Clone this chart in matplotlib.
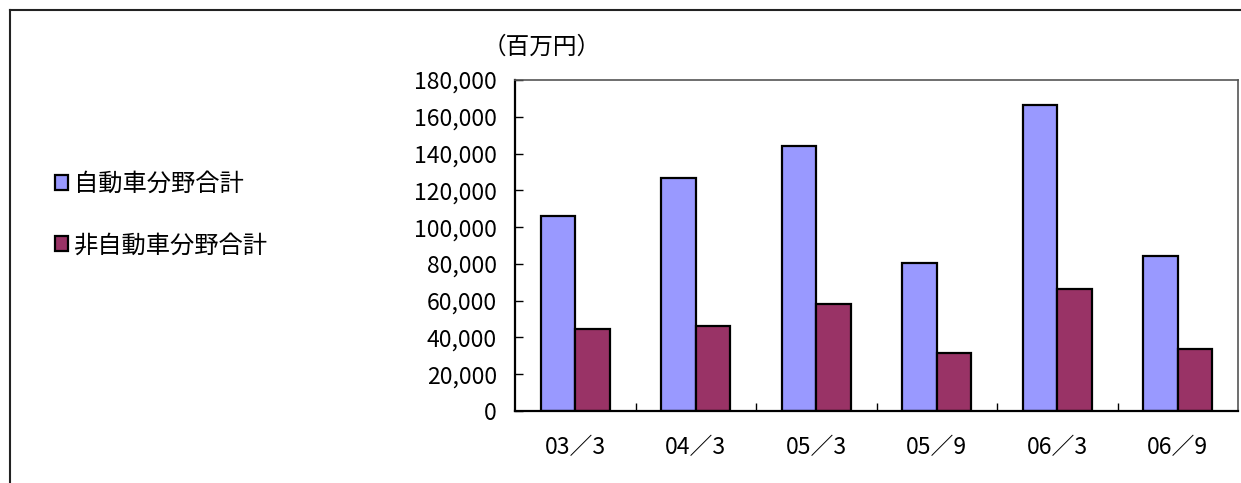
import numpy as np
import matplotlib
matplotlib.use('Agg')
import matplotlib.pyplot as plt
from matplotlib.lines import Line2D
from matplotlib.ticker import FuncFormatter, FixedLocator

plt.rcParams['font.family'] = ['Noto Sans CJK JP', 'DejaVu Sans']

periods = ['03／3', '04／3', '05／3', '05／9', '06／3', '06／9']
auto_total = [106000, 126700, 144300, 80500, 166400, 84300]      # 自動車分野合計
non_auto_total = [44400, 46200, 58400, 31400, 66300, 33900]      # 非自動車分野合計
series_names = ['自動車分野合計', '非自動車分野合計']
unit_label = '（百万円）'

W, H = 1241, 483
fig = plt.figure(figsize=(W/100, H/100), dpi=100)
ax = fig.add_axes([515/W, 1-411/H, (1238-515)/W, (411-80)/H])

x = np.arange(len(periods))
bw = 0.286
b1 = ax.bar(x - bw/2, auto_total, bw, color='#9999FF', edgecolor='black', linewidth=1.6, label=series_names[0])
b2 = ax.bar(x + bw/2, non_auto_total, bw, color='#993366', edgecolor='black', linewidth=1.6, label=series_names[1])

ax.set_xlim(-0.5, len(periods)-0.5)
ax.set_ylim(0, 180000)
ax.set_yticks(np.arange(0, 180001, 20000))
ax.yaxis.set_major_formatter(FuncFormatter(lambda v, p: f'{v:,.0f}'))
ax.tick_params(axis='y', direction='in', length=6, width=1, pad=13, labelsize=16.5)

ax.set_xticks(x)
ax.set_xticklabels(periods)
ax.tick_params(axis='x', which='major', length=0, pad=18, labelsize=16.5)
ax.xaxis.set_minor_locator(FixedLocator(np.arange(0.5, len(periods)-1, 1)))
ax.tick_params(axis='x', which='minor', direction='in', length=6, width=1)

for s in ['left', 'bottom']:
    ax.spines[s].set_linewidth(1.6)
    ax.spines[s].set_color('black')
for s in ['top', 'right']:
    ax.spines[s].set_linewidth(1.2)
    ax.spines[s].set_color('#555555')

fig.text(542/W, 1-47/H, unit_label, fontsize=17, ha='center', va='center')

fig.legend(handles=[b1, b2], loc='upper left', bbox_to_anchor=(55/W, 1-171/H),
           frameon=False, fontsize=17.5, handlelength=0.55, handleheight=0.55,
           handletextpad=0.25, labelspacing=1.45, borderpad=0, borderaxespad=0)

# outer frame (left and top edges)
fig.add_artist(Line2D([10/W, 10/W], [0, 1-10/H], color='#222222', lw=1.5))
fig.add_artist(Line2D([10/W, 1], [1-10/H, 1-10/H], color='#222222', lw=1.5))

fig.savefig('out.png', dpi=100)
